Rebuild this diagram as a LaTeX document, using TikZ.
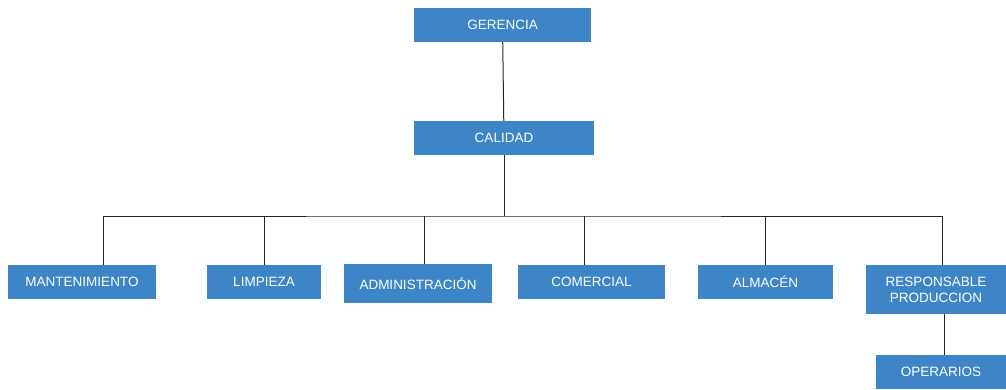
\documentclass[tikz,border=0pt]{standalone}
\usepackage{fontspec}
\setmainfont{Liberation Sans}
\usepackage{tikz}
\definecolor{BoxBlue}{HTML}{3D85C6}
\tikzset{
  area/.style={fill=BoxBlue, text=white, inner sep=0pt, align=center,
    font=\fontsize{13.5}{16}\selectfont},
  link/.style={draw=black!85, line width=1pt}
}

\begin{document}
\begin{tikzpicture}[x=1pt, y=-1pt]
    \useasboundingbox (0,0) rectangle (1006,389);
    \node[area, minimum width=177pt, minimum height=34pt] (gerencia) at (502.5,25) {GERENCIA};
    \node[area, minimum width=180pt, minimum height=34pt] (calidad) at (504,138) {CALIDAD};
    \node[area, minimum width=148pt, minimum height=34pt] (mant) at (82,282) {MANTENIMIENTO};
    \node[area, minimum width=114pt, minimum height=34pt] (limp) at (264,282) {LIMPIEZA};
    \node[area, minimum width=148pt, minimum height=39pt] (admin) at (418,283.5) {ADMINISTRACIÓN};
    \node[area, minimum width=147pt, minimum height=34pt] (comer) at (591.5,282) {COMERCIAL};
    \node[area, minimum width=135pt, minimum height=34pt] (almac) at (765.5,282) {ALMACÉN};
    \node[area, minimum width=140pt, minimum height=49pt] (resp) at (936,289.5) {RESPONSABLE\\PRODUCCION};
    \node[area, minimum width=130pt, minimum height=34pt] (oper) at (941,372) {OPERARIOS};
    \coordinate (bus) at (504,216);
    \draw[link] (gerencia) -- (calidad);
    \draw[link] (calidad) -- (bus);
    \draw[link] (mant.north -| 103,0) |- (bus) -| (resp.north -| 942,0);
    \draw[link] (limp.north) -- (limp.north |- bus);
    \draw[link] (admin.north -| 424,0) -- (bus -| 424,0);
    \draw[link] (comer.north -| 584,0) -- (bus -| 584,0);
    \draw[link] (almac.north) -- (almac.north |- bus);
    \draw[link] (resp.south -| 944,0) -- (oper.north -| 944,0);
\end{tikzpicture}
\end{document}
